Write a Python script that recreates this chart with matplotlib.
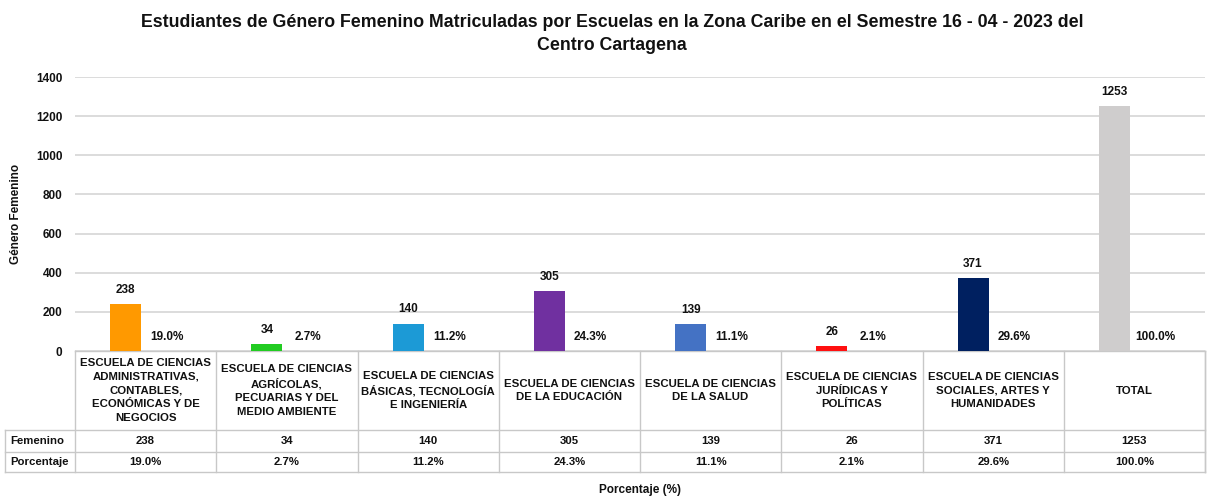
import matplotlib.pyplot as plt
from matplotlib.transforms import blended_transform_factory

# --- datos ---
escuelas = [
    "ESCUELA DE CIENCIAS\nADMINISTRATIVAS,\nCONTABLES,\nECONÓMICAS Y DE\nNEGOCIOS",
    "ESCUELA DE CIENCIAS\nAGRÍCOLAS,\nPECUARIAS Y DEL\nMEDIO AMBIENTE",
    "ESCUELA DE CIENCIAS\nBÁSICAS, TECNOLOGÍA\nE INGENIERÍA",
    "ESCUELA DE CIENCIAS\nDE LA EDUCACIÓN",
    "ESCUELA DE CIENCIAS\nDE LA SALUD",
    "ESCUELA DE CIENCIAS\nJURÍDICAS Y\nPOLÍTICAS",
    "ESCUELA DE CIENCIAS\nSOCIALES, ARTES Y\nHUMANIDADES",
    "TOTAL",
]
femenino = [238, 34, 140, 305, 139, 26, 371, 1253]
porcentaje = [19.0, 2.7, 11.2, 24.3, 11.1, 2.1, 29.6, 100.0]
colores = ["#FF9900", "#22CC22", "#1C9AD6", "#7030A0", "#4472C4",
           "#FF1010", "#002060", "#CFCDCD"]
filas = ["Femenino", "Porcentaje"]

plt.rcParams['font.family'] = ['Liberation Sans', 'DejaVu Sans']
TXT = '#111111'

W, H = 1207, 498
fig = plt.figure(figsize=(W / 100, H / 100), dpi=100)
ax = fig.add_axes([75 / W, 1 - 351 / H, 1130 / W, 274 / H])

x = list(range(len(femenino)))
ax.bar([i - 0.142 for i in x], femenino, width=0.22, color=colores, zorder=3)

for i, (v, p) in enumerate(zip(femenino, porcentaje)):
    ax.text(i - 0.142, v + 42, str(v), ha='center', va='bottom',
            fontsize=8.5, fontweight='bold', color=TXT)
    ax.text(i + 0.15, 70, f"{p:.1f}%", ha='center', va='center',
            fontsize=8.5, fontweight='bold', color=TXT)

ax.set_xlim(-0.5, len(femenino) - 0.5)
ax.set_ylim(0, 1400)
ax.set_yticks(range(0, 1401, 200))
ax.yaxis.grid(True, color='#D9D9D9', linewidth=1.3, zorder=0)
ax.set_xticks([])
for s in ax.spines.values():
    s.set_visible(False)
ax.tick_params(axis='y', length=0, labelsize=8.5, pad=9, labelcolor=TXT)
for t in ax.get_yticklabels():
    t.set_fontweight('bold')
ax.set_ylabel("Género Femenino", fontsize=8.5, fontweight='bold',
              labelpad=10, color=TXT)

# --- tabla de datos ---
tr = blended_transform_factory(ax.transData, ax.transAxes)
y_top, y_hdr, y_r1, y_r2 = 0.0, -79 / 274, -101 / 274, -121 / 274
x_lab = -0.5 - 70 / 141.25
x_end = len(femenino) - 0.5
lc = '#C8C8C8'
kw = dict(transform=tr, color=lc, linewidth=1, clip_on=False)

ax.plot([-0.5, x_end], [y_top, y_top], **kw)
for yy in (y_hdr, y_r1, y_r2):
    ax.plot([x_lab, x_end], [yy, yy], **kw)
for i in range(len(femenino) + 1):
    ax.plot([i - 0.5, i - 0.5], [y_top, y_r2], **kw)
ax.plot([x_end, x_end], [y_top, y_r2], **kw)
ax.plot([x_lab, x_lab], [y_hdr, y_r2], **kw)

tk = dict(transform=tr, ha='center', va='center', fontsize=8.2,
          fontweight='bold', color=TXT, clip_on=False)
for i, nombre in enumerate(escuelas):
    ax.text(i, (y_top + y_hdr) / 2, nombre, linespacing=1.45, **tk)
    ax.text(i, (y_hdr + y_r1) / 2, str(femenino[i]), **tk)
    ax.text(i, (y_r1 + y_r2) / 2, f"{porcentaje[i]:.1f}%", **tk)
for f, ya, yb in zip(filas, (y_hdr, y_r1), (y_r1, y_r2)):
    ax.text(x_lab + 0.04, (ya + yb) / 2, f, transform=tr, ha='left',
            va='center', fontsize=8.2, fontweight='bold', color=TXT,
            clip_on=False)

fig.text(640 / W, 1 - 490 / H, "Porcentaje (%)", ha='center', va='center',
         fontsize=8.5, fontweight='bold', color=TXT)
fig.text(612 / W, 1 - 34 / H,
         "Estudiantes de Género Femenino Matriculadas por Escuelas en la Zona "
         "Caribe en el Semestre 16 - 04 - 2023 del\nCentro Cartagena",
         ha='center', va='center', fontsize=12.8, fontweight='bold',
         color=TXT, linespacing=1.4)

fig.savefig("out.png", dpi=100)
